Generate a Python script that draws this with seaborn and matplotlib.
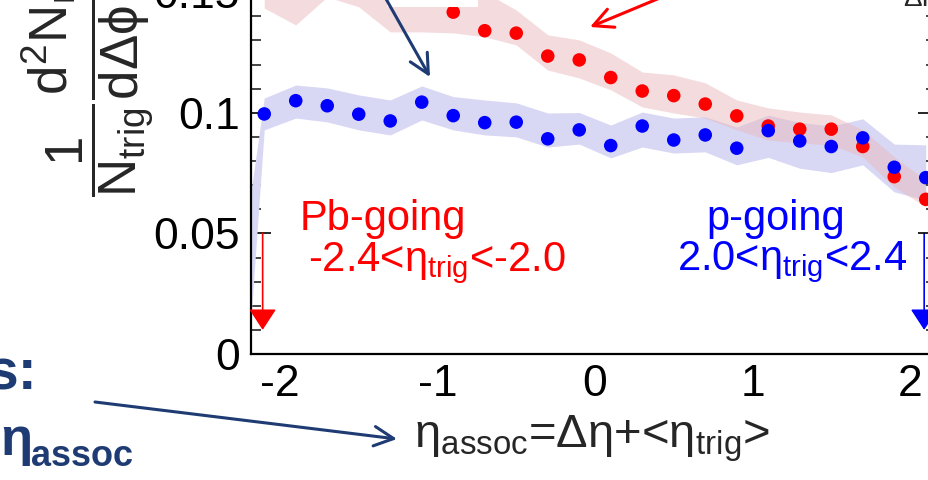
import matplotlib
matplotlib.use("Agg")
import matplotlib.pyplot as plt
import seaborn as sns
import pandas as pd
from matplotlib.patches import FancyArrowPatch, Rectangle
from matplotlib.ticker import MultipleLocator

# ---- data -------------------------------------------------------------
eta = [-2.1, -1.9, -1.7, -1.5, -1.3, -1.1, -0.9, -0.7, -0.5, -0.3, -0.1,
       0.1, 0.3, 0.5, 0.7, 0.9, 1.1, 1.3, 1.5, 1.7, 1.9, 2.1]

# Pb-going trigger (-2.4 < eta_trig < -2.0)
pb_val = [0.158, 0.155, 0.160, 0.156, 0.152, 0.150, 0.1417, 0.1340, 0.1330,
          0.1235, 0.1219, 0.1146, 0.1090, 0.1071, 0.1036, 0.0987, 0.0945,
          0.0932, 0.0932, 0.0860, 0.0735, 0.0641]
pb_lo = [0.1434, 0.1364, 0.1480, 0.1439, 0.1335, 0.1335, 0.1331, 0.1315,
         0.1281, 0.1177, 0.1144, 0.1095, 0.1024, 0.0999, 0.0978, 0.0929,
         0.0887, 0.0875, 0.0866, 0.0817, 0.0692, 0.0610]
pb_hi = [0.170, 0.168, 0.172, 0.168, 0.160, 0.158, 0.156, 0.150, 0.1426,
         0.1323, 0.1302, 0.1248, 0.1169, 0.1157, 0.1124, 0.1053, 0.1020,
         0.1003, 0.0991, 0.0929, 0.0817, 0.0721]

# p-going trigger (2.0 < eta_trig < 2.4)
p_val = [0.0995, 0.1050, 0.1029, 0.0994, 0.0966, 0.1044, 0.0988, 0.0959,
         0.0961, 0.0892, 0.0929, 0.0864, 0.0945, 0.0887, 0.0908, 0.0853,
         0.0926, 0.0883, 0.0860, 0.0896, 0.0774, 0.0731]
p_lo = [0.0929, 0.0978, 0.0962, 0.0929, 0.0908, 0.0970, 0.0929, 0.0908,
        0.0900, 0.0858, 0.0870, 0.0813, 0.0858, 0.0833, 0.0838, 0.0784,
        0.0815, 0.0770, 0.0752, 0.0784, 0.0672, 0.0638]
p_hi = [0.1061, 0.1115, 0.1103, 0.1074, 0.1053, 0.1111, 0.1067, 0.1053,
        0.1041, 0.0999, 0.1001, 0.0949, 0.1003, 0.0978, 0.0983, 0.0941,
        0.0990, 0.0960, 0.0945, 0.0975, 0.0870, 0.0867]
# first vertex of the p-going systematic band, at the lower edge of the range
p_edge_eta, p_edge_lo, p_edge_hi = -2.2, 0.0, 0.06

# trigger positions (arrows)
pb_trig_eta = -2.11
p_trig_eta = 2.09

x_ticks = [-2, -1, 0, 1, 2]
x_ticklabels = ["-2", "-1", "0", "1", "2"]
y_ticks = [0, 0.05, 0.1, 0.15]
y_ticklabels = ["0", "0.05", "0.1", "0.15"]

# ---- style ------------------------------------------------------------
sns.set_style("white")
plt.rcParams["font.family"] = ["Liberation Sans", "DejaVu Sans"]
plt.rcParams["mathtext.fontset"] = "custom"
plt.rcParams["mathtext.rm"] = "Liberation Sans"
plt.rcParams["mathtext.it"] = "Liberation Sans"
plt.rcParams["mathtext.bf"] = "Liberation Sans:bold"
plt.rcParams["mathtext.sf"] = "Liberation Sans"
plt.rcParams["mathtext.default"] = "regular"

RED = "#ff0000"
BLUE = "#0000ff"
NAVY = "#1f3b73"

W, H = 929, 480
fig = plt.figure(figsize=(W / 100, H / 100), dpi=100)
ax = fig.add_axes([251 / W, 126 / H, 679 / W, 386 / H])

# systematic bands
ax.fill_between([p_edge_eta] + eta, [p_edge_lo] + p_lo, [p_edge_hi] + p_hi,
                color="#d8d8f4", lw=0, zorder=1)
ax.fill_between(eta, pb_lo, pb_hi, color="#e9b9bf", alpha=0.5, lw=0, zorder=1.1)

# points: Pb-going first so that p-going sits on top
df = pd.DataFrame({
    "eta": eta + eta,
    "yield": pb_val + p_val,
    "trigger": ["Pb-going"] * len(eta) + ["p-going"] * len(eta),
})
sns.scatterplot(data=df, x="eta", y="yield", hue="trigger",
                palette={"Pb-going": RED, "p-going": BLUE},
                s=95, linewidth=0, legend=False, ax=ax, zorder=3)

ax.set_xlim(-2.184, 2.127)
ax.set_ylim(0, 0.16)
ax.set_xlabel("")
ax.set_ylabel("")

ax.set_xticks(x_ticks)
ax.set_xticklabels(x_ticklabels)
ax.set_yticks(y_ticks)
ax.set_yticklabels(y_ticklabels)
ax.xaxis.set_minor_locator(MultipleLocator(0.2))
ax.yaxis.set_minor_locator(MultipleLocator(0.01))
ax.tick_params(axis="x", which="major", direction="in", length=12, width=1.2,
               labelsize=32, pad=7, top=False, colors="black")
ax.tick_params(axis="x", which="minor", direction="in", length=6, width=1.2, top=False)
ax.tick_params(axis="y", which="major", direction="in", length=14.5, width=1.2,
               labelsize=32, pad=8, right=False, colors="black")
ax.tick_params(axis="y", which="minor", direction="in", length=7.5, width=1.2, right=False)
for side in ("top", "right"):
    ax.spines[side].set_visible(False)
for side in ("left", "bottom"):
    ax.spines[side].set_color("black")
    ax.spines[side].set_linewidth(1.6)

# right-hand ticks
axr = ax.twinx()
axr.set_ylim(ax.get_ylim())
axr.set_yticks(y_ticks)
axr.yaxis.set_minor_locator(MultipleLocator(0.01))
axr.tick_params(axis="y", which="major", direction="in", length=8.6, width=1.2,
                labelright=False, colors="black")
axr.tick_params(axis="y", which="minor", direction="in", length=3, width=1.2)
for s in axr.spines.values():
    s.set_visible(False)

# trigger arrows
for x0, c in ((pb_trig_eta, RED), (p_trig_eta, BLUE)):
    ax.add_patch(FancyArrowPatch((x0, 0.05), (x0, 0.01),
                                 arrowstyle="-|>,head_length=13,head_width=8.5",
                                 mutation_scale=1, lw=1.2, color=c,
                                 shrinkA=0, shrinkB=0, clip_on=False, zorder=4))

# labels
fig.text(300 / W, (H - 230) / H, "Pb-going", color=RED, fontsize=30, va="baseline")
fig.text(308 / W, (H - 271) / H, r"-2.4<$\eta_{trig}$<-2.0", color=RED,
         fontsize=30, va="baseline")
fig.text(706 / W, (H - 230) / H, "p-going", color=BLUE, fontsize=30, va="baseline")
fig.text(677 / W, (H - 270) / H, r"2.0<$\eta_{trig}$<2.4", color=BLUE,
         fontsize=30, va="baseline")

fig.text(592 / W, (H - 447) / H, r"$\eta_{assoc}$=$\Delta\eta$+<$\eta_{trig}$>",
         fontsize=34, ha="center", va="baseline")
fig.text(88 / W, (H - 197) / H,
         r"$\dfrac{1}{N_{trig}}\dfrac{d^{2}N_{ridge}}{d\Delta\phi\,cos}$",
         fontsize=38, rotation=90, ha="center", va="bottom")
fig.text(903 / W, (H - 6) / H, r"$\Delta\eta$", fontsize=20, va="baseline")

# slide annotations around the plot
fig.text(38 / W, (H - 390) / H, "s:", fontsize=41, fontweight="bold",
         color=NAVY, ha="right", va="baseline")
fig.text(0, (H - 455) / H, "\u03b7", fontsize=38, fontweight="bold",
         color=NAVY, va="baseline")
fig.text(31 / W, (H - 466) / H, "assoc", fontsize=26, fontweight="bold",
         color=NAVY, va="baseline")

fig.add_artist(Rectangle((387 / W, (H - 7) / H), 91 / W, 20 / H,
                         transform=fig.transFigure, facecolor="white",
                         edgecolor="none", zorder=5))


def slide_arrow(p0, p1, color):
    fig.add_artist(FancyArrowPatch((p0[0] / W, (H - p0[1]) / H),
                                   (p1[0] / W, (H - p1[1]) / H),
                                   arrowstyle="->,head_length=0.7,head_width=0.35",
                                   mutation_scale=20, lw=2.2, color=color,
                                   shrinkA=0, shrinkB=0,
                                   transform=fig.transFigure, zorder=6))


slide_arrow((381, -10), (430, 77), NAVY)
slide_arrow((667, -5), (590, 27), RED)
slide_arrow((95, 402), (397, 439), NAVY)

fig.savefig("out.png", dpi=100)
